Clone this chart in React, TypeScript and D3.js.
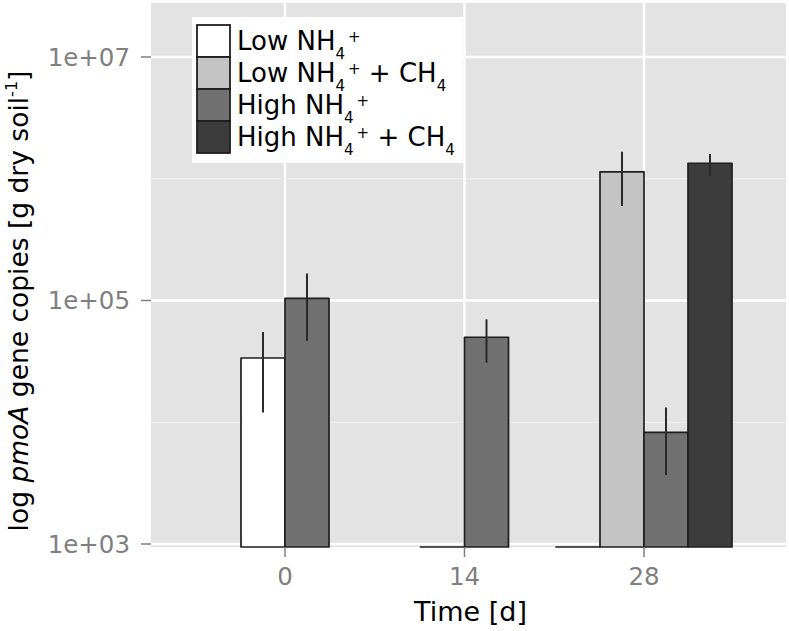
import React from "react";
import * as d3 from "d3";

const times = [0, 14, 28];
const timeLabels = ["0", "14", "28"];
const seriesNames = ["Low", "LowCH4", "High", "HighCH4"];
const seriesFills = ["#ffffff", "#c4c4c4", "#717171", "#3c3c3c"];

// mean values (null = treatment not present at that time, 0 = no detection)
const lowValues: (number | null)[] = [3.37e4, 0, 0];
const lowCH4Values: (number | null)[] = [null, null, 1.14e6];
const highValues: (number | null)[] = [1.04e5, 4.99e4, 8.26e3];
const highCH4Values: (number | null)[] = [null, null, 1.34e6];

const lowErrLo: (number | null)[] = [1.2e4, null, null];
const lowErrHi: (number | null)[] = [5.5e4, null, null];
const lowCH4ErrLo: (number | null)[] = [null, null, 5.97e5];
const lowCH4ErrHi: (number | null)[] = [null, null, 1.67e6];
const highErrLo: (number | null)[] = [4.68e4, 3.08e4, 3.69e3];
const highErrHi: (number | null)[] = [1.67e5, 7.0e4, 1.32e4];
const highCH4ErrLo: (number | null)[] = [null, null, 1.06e6];
const highCH4ErrHi: (number | null)[] = [null, null, 1.6e6];

const yMajorTicks = [1e3, 1e5, 1e7];
const yTickLabels = ["1e+03", "1e+05", "1e+07"];
const yMinorTicks = [1e4, 1e6];

const W = 789;
const H = 631;
const panel = { left: 151, right: 786, top: 3, bottom: 547 };
const barW = 44;
const FONT = "DejaVu Sans, Verdana, sans-serif";

export default function App() {
  const values = [lowValues, lowCH4Values, highValues, highCH4Values];
  const errLo = [lowErrLo, lowCH4ErrLo, highErrLo, highCH4ErrLo];
  const errHi = [lowErrHi, lowCH4ErrHi, highErrHi, highCH4ErrHi];

  const x = d3.scaleLinear().domain([0, 28]).range([285, 644]);
  const y = d3
    .scaleLog()
    .domain([Math.pow(10, 2.9754), Math.pow(10, 7.4435)])
    .range([panel.bottom, panel.top]);

  const yv = (v: number) => (v <= 0 ? panel.bottom : y(v));

  const bars: any[] = [];
  times.forEach((t, ti) => {
    const present = seriesNames
      .map((_, si) => si)
      .filter((si) => values[si][ti] !== null);
    const n = present.length;
    present.forEach((si, i) => {
      const x0 = x(t) - (n * barW) / 2 + i * barW;
      const v = values[si][ti] as number;
      bars.push({
        key: `${si}-${ti}`,
        x0,
        x1: x0 + barW,
        yTop: yv(v),
        fill: seriesFills[si],
        lo: errLo[si][ti],
        hi: errHi[si][ti],
      });
    });
  });

  const legendLabels = [
    { a: "Low NH", b: "" },
    { a: "Low NH", b: " + CH" },
    { a: "High NH", b: "" },
    { a: "High NH", b: " + CH" },
  ];

  const legend = { x: 192, y: 17, w: 271, h: 146, keyX: 197, keyY: 25, keyW: 33, keyH: 32 };

  return (
    <svg width={W} height={H} style={{ display: "block", position: "absolute", left: 0, top: 0 }}>
      <rect x={0} y={0} width={W} height={H} fill="#ffffff" />
      <rect
        x={panel.left}
        y={panel.top}
        width={panel.right - panel.left}
        height={panel.bottom - panel.top}
        fill="#e3e3e3"
      />
      {yMinorTicks.map((v) => (
        <line key={"mn" + v} x1={panel.left} x2={panel.right} y1={y(v)} y2={y(v)} stroke="#f0f0f0" strokeWidth={1.2} />
      ))}
      {yMajorTicks.map((v) => (
        <line key={"mj" + v} x1={panel.left} x2={panel.right} y1={y(v)} y2={y(v)} stroke="#ffffff" strokeWidth={2.4} />
      ))}
      {times.map((t) => (
        <line key={"vx" + t} x1={x(t)} x2={x(t)} y1={panel.top} y2={panel.bottom} stroke="#ffffff" strokeWidth={2.4} />
      ))}

      {bars.map((b) => (
        <path
          key={b.key}
          d={`M${b.x0},${panel.bottom}V${b.yTop}H${b.x1}V${panel.bottom}Z`}
          fill={b.fill}
          stroke="#1e1e1e"
          strokeWidth={1.7}
          strokeLinejoin="round"
        />
      ))}
      {bars
        .filter((b) => b.lo !== null && b.hi !== null)
        .map((b) => (
          <line
            key={"e" + b.key}
            x1={(b.x0 + b.x1) / 2}
            x2={(b.x0 + b.x1) / 2}
            y1={y(b.lo)}
            y2={y(b.hi)}
            stroke="#2a2a2a"
            strokeWidth={2}
          />
        ))}

      {/* y axis */}
      {yMajorTicks.map((v, i) => (
        <g key={"yt" + v}>
          <line x1={panel.left - 10} x2={panel.left} y1={y(v)} y2={y(v)} stroke="#808080" strokeWidth={1.5} />
          <text
            x={panel.left - 21}
            y={y(v)}
            dy="0.36em"
            textAnchor="end"
            fontFamily={FONT}
            fontSize={24.5}
            fill="#7f7f7f"
          >
            {yTickLabels[i]}
          </text>
        </g>
      ))}
      {/* x axis */}
      {times.map((t, i) => (
        <g key={"xt" + t}>
          <line x1={x(t)} x2={x(t)} y1={panel.bottom} y2={panel.bottom + 10} stroke="#808080" strokeWidth={1.5} />
          <text x={x(t)} y={585} textAnchor="middle" fontFamily={FONT} fontSize={24.5} fill="#7f7f7f">
            {timeLabels[i]}
          </text>
        </g>
      ))}
      <text
        x={(panel.left + panel.right) / 2 + 2}
        y={621}
        textAnchor="middle"
        fontFamily={FONT}
        fontSize={27}
        fill="#000000"
      >
        Time [d]
      </text>
      <text
        transform={`translate(28,301) rotate(-90)`}
        textAnchor="middle"
        fontFamily={FONT}
        fontSize={26.5}
        fill="#000000"
      >
        log <tspan fontStyle="italic">pmoA</tspan> gene copies [g dry soil
        <tspan fontSize={16} dy={-11}>-1</tspan>
        <tspan dy={11}>]</tspan>
      </text>

      {/* legend */}
      <rect x={legend.x} y={legend.y} width={legend.w} height={legend.h} fill="#ffffff" />
      {seriesNames.map((s, i) => {
        const ky = legend.keyY + i * legend.keyH;
        const lab = legendLabels[i];
        return (
          <g key={"lg" + s}>
            <rect
              x={legend.keyX}
              y={ky}
              width={legend.keyW}
              height={legend.keyH}
              fill={seriesFills[i]}
              stroke="#1e1e1e"
              strokeWidth={1.8}
            />
            <text x={237} y={ky + 25} fontFamily={FONT} fontSize={26} fill="#000000">
              {lab.a}
              <tspan fontSize={15} dy={9}>4</tspan>
              <tspan fontSize={15} dx={3} dy={-17}>+</tspan>
              {lab.b ? (
                <>
                  <tspan dy={8}>{lab.b}</tspan>
                  <tspan fontSize={15} dy={9}>4</tspan>
                </>
              ) : null}
            </text>
          </g>
        );
      })}
    </svg>
  );
}
